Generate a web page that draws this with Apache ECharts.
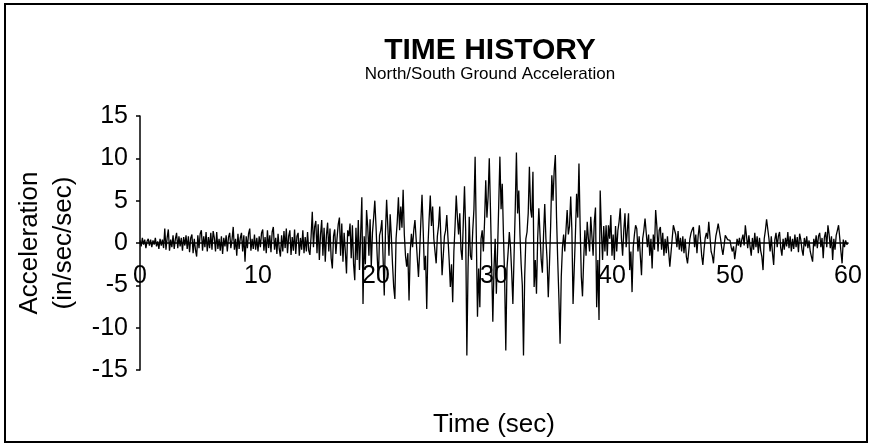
<!DOCTYPE html>
<html>
<head>
<meta charset="utf-8">
<script src="https://cdn.jsdelivr.net/npm/echarts@6/dist/echarts.min.js"></script>
<style>html,body{margin:0;padding:0;background:#fff}#c{width:871px;height:448px}</style>
</head>
<body>
<div id="c"></div>
<script>
// Sampling step of the record (seconds)
const timeStep = 0.1;
// Acceleration (in/sec/sec), one array per 10 s
const acc0to10 = [
  0.3,-0.4,0.6,-0.2,0.4,-0.6,0.2,0.5,-0.3,0.4,
  -0.5,0.3,-0.2,0.6,-0.4,0.2,-0.7,0.5,-0.3,0.4,
  -0.6,1.7,-0.8,0.6,1.6,-0.9,0.4,-0.5,0.9,-0.7,
  0.5,1.2,-0.6,0.8,-0.4,0.6,-0.9,0.7,-0.3,0.9,
  -0.7,0.8,-1.1,0.6,1.0,-1.2,0.5,-0.8,-1.6,0.9,
  -0.6,1.1,1.5,-0.9,0.8,-0.5,1.3,-1.0,0.7,-0.6,
  1.2,-0.8,1.4,0.6,-1.0,1.3,-0.7,0.5,-0.9,0.8,
  -1.3,0.6,-0.4,0.9,-1.0,0.7,1.2,-0.6,0.4,1.9,
  -0.8,0.5,-1.5,1.1,-0.7,0.6,1.2,-1.0,0.9,-2.2,
  0.8,-0.6,1.1,1.7,-0.9,0.5,-0.7,1.0,-0.8,0.6
];
const acc10to20 = [
  -1.0,0.8,-0.5,1.2,1.6,-0.9,0.7,-1.2,1.5,-0.6,
  0.9,-1.1,1.3,1.9,-0.8,0.6,-1.3,1.1,-0.7,-1.6,
  0.9,-1.0,1.4,-0.6,1.7,-1.2,0.8,1.5,-1.4,0.7,
  -0.9,1.6,-1.3,0.8,1.2,-1.5,0.6,-0.8,1.5,-1.2,
  0.7,-1.0,1.3,-0.9,-1.4,0.8,3.7,-0.5,1.9,2.6,
  -1.2,2.2,-2.0,1.0,2.7,-1.5,1.8,-2.2,0.9,2.4,
  -1.0,1.7,-1.8,-3.0,0.8,1.6,-1.3,0.6,2.2,3.0,
  -1.5,2.3,-2.2,1.2,-1.0,-3.6,1.5,0.8,2.3,-1.8,
  2.1,-2.5,-4.4,1.8,-2.0,2.7,-3.2,1.0,5.4,-7.2,
  0.8,-2.5,3.9,1.9,-1.5,2.8,-2.8,1.2,3.0,5.0
];
const acc20to30 = [
  2.0,-1.5,-4.4,0.9,1.5,2.7,-1.8,-6.2,1.2,5.1,
  2.0,-1.5,3.4,0.8,-2.5,-5.2,-6.6,0.5,2.5,5.4,
  1.5,4.3,1.8,6.3,1.0,-1.5,-2.8,-1.2,-6.8,-1.0,
  1.1,-0.5,1.5,2.7,0.5,-1.8,-4.0,-1.0,2.5,5.7,
  1.5,-3.2,-1.5,-7.8,-0.5,2.8,5.6,2.0,4.3,0.5,
  -1.0,-2.4,0.8,2.0,4.3,0.5,-3.8,-1.5,0.8,1.5,
  3.3,0.6,-2.0,-5.2,-2.5,-7.0,-1.0,2.0,5.6,3.0,
  1.0,3.5,-0.8,-2.0,2.5,6.7,1.5,-13.3,-3.0,3.1,
  -1.5,-2.0,1.5,4.0,10.2,1.0,-8.7,-3.0,-7.6,0.5,
  1.5,-1.0,2.5,7.4,3.0,5.5,10.0,4.0,-2.5,-9.3
];
const acc30to40 = [
  -3.0,0.5,-6.0,-1.0,4.5,10.2,4.0,7.0,1.0,-4.0,
  -12.7,-3.0,-1.0,1.3,-0.5,-3.5,-7.2,-1.5,4.0,10.7,
  3.5,6.2,1.0,-2.5,-5.0,-13.3,-4.0,0.5,1.3,3.5,
  9.0,4.0,3.0,8.4,-5.2,-2.0,-6.0,0.5,4.1,1.0,
  -2.0,-3.5,1.0,4.6,0.5,-2.0,-6.4,-2.5,2.0,8.0,
  5.0,8.5,10.4,3.0,-2.0,-6.5,-11.9,-4.0,-0.5,1.0,
  -1.0,1.5,3.9,1.0,2.0,5.5,1.5,-7.2,-3.0,1.0,
  5.8,3.0,9.4,2.0,-4.0,-6.3,-2.0,1.5,-1.5,2.5,
  0.5,-1.0,3.1,0.8,-1.5,2.5,4.2,-7.6,-2.0,-9.1,
  6.2,1.5,-2.0,2.0,-1.0,2.1,-1.5,2.1,0.5,3.3
];
const acc40to50 = [
  -1.5,1.0,-2.0,2.0,-1.0,1.5,2.5,4.1,0.5,-1.5,
  1.5,3.5,-0.5,1.5,3.5,-3.2,-1.0,-5.8,-0.5,1.0,
  2.1,1.7,-1.0,0.8,-1.5,-3.8,0.5,1.5,2.9,2.7,
  -0.5,1.0,-1.5,0.5,-3.0,1.0,-0.8,3.9,2.0,-1.0,
  1.5,1.9,-0.8,1.2,-1.5,0.5,-1.2,0.8,-1.0,-2.8,
  -3.0,0.5,2.1,2.2,1.0,-0.5,1.4,-0.8,0.6,-1.0,
  0.8,-1.2,0.5,-1.6,-2.4,-1.0,0.5,1.2,1.6,1.9,
  -0.5,1.0,-1.2,0.8,2.1,0.4,-1.5,-2.6,-0.8,0.6,
  1.2,0.5,2.5,0.8,-1.0,-1.5,-2.4,-0.5,0.8,1.5,
  2.3,2.2,0.5,-0.6,-1.4,-0.3,0.9,0.9,0.4,0.6
];
const acc50to60 = [
  0.3,-0.5,-1.0,-0.4,-1.9,-0.8,0.5,-0.3,0.6,-0.5,
  0.4,1.0,-0.3,2.1,0.8,-0.6,0.9,-0.4,-1.5,0.6,
  -0.8,1.2,-0.5,0.8,-1.2,0.6,-0.9,-1.6,-3.2,0.5,
  1.5,2.8,2.7,0.5,-1.0,0.8,-1.2,-2.6,0.4,1.2,
  -0.5,0.8,1.3,-0.6,-1.5,0.5,-0.8,0.6,-0.4,1.3,
  -0.6,0.8,-1.0,0.5,-0.7,1.0,-0.5,0.7,-1.1,1.1,
  0.4,-0.8,-1.5,0.6,-0.4,0.8,-0.6,0.3,-1.0,-1.6,
  -2.2,0.5,-0.4,0.9,-0.6,0.8,1.2,-0.5,0.6,-1.8,
  0.7,1.3,-0.5,2.1,1.0,-0.6,0.8,-2.0,0.5,-0.8,
  0.9,1.5,2.1,0.6,-1.0,-2.4,0.4,-0.5,0.3,-0.2,
  0.0
];
const xTicks = [0, 10, 20, 30, 40, 50, 60];
const yTicks = [-15, -10, -5, 0, 5, 10, 15];

const accel = [].concat(acc0to10, acc10to20, acc20to30, acc30to40, acc40to50, acc50to60);
const seriesData = accel.map((v, i) => [Math.round(i * timeStep * 10) / 10, v]);

const FONT = 'Liberation Sans, Arial, sans-serif';
const GRID_TOP = 116, GRID_BOTTOM = 78, H = 448;
// the x axis sits on the zero line, i.e. half the plot height above the grid bottom
const plotH = H - GRID_TOP - GRID_BOTTOM;
const chart = echarts.init(document.getElementById('c'), null, {renderer: 'canvas'});
chart.setOption({
  animation: false,
  backgroundColor: '#fff',
  title: {
    text: 'TIME HISTORY',
    subtext: 'North/South Ground Acceleration',
    left: 490, top: 36, textAlign: 'center', padding: 0, itemGap: 0,
    textStyle: {fontFamily: FONT, fontSize: 30, fontWeight: 'bold', color: '#000'},
    subtextStyle: {fontFamily: FONT, fontSize: 17, color: '#000'}
  },
  graphic: [{
    type: 'rect', shape: {x: 5, y: 4, width: 862, height: 438},
    style: {fill: 'none', stroke: '#000', lineWidth: 2}, silent: true
  }],
  grid: {left: 140, right: 23, top: GRID_TOP, bottom: GRID_BOTTOM, containLabel: false, outerBoundsMode: 'none'},
  xAxis: {
    type: 'value', min: xTicks[0], max: xTicks[xTicks.length - 1], interval: 10,
    name: 'Time (sec)', nameLocation: 'middle', nameGap: 169,
    nameTextStyle: {fontFamily: FONT, fontSize: 26, color: '#000'},
    offset: -plotH / 2,
    axisLine: {onZero: false, lineStyle: {color: '#000', width: 1.5}},
    axisTick: {show: false},
    splitLine: {show: false},
    axisLabel: {fontFamily: FONT, fontSize: 25, color: '#000', margin: 21, showMinLabel: true, showMaxLabel: true, hideOverlap: false}
  },
  yAxis: {
    type: 'value', min: yTicks[0], max: yTicks[yTicks.length - 1], interval: 5,
    name: 'Acceleration\n(in/sec/sec)', nameLocation: 'middle', nameGap: 54, nameRotate: 90,
    nameTextStyle: {fontFamily: FONT, fontSize: 26, color: '#000', lineHeight: 34},
    axisLine: {onZero: false, lineStyle: {color: '#000', width: 1.5}},
    axisTick: {length: 4, lineStyle: {color: '#000', width: 1.5}},
    splitLine: {show: false},
    axisLabel: {fontFamily: FONT, fontSize: 25, color: '#000', margin: 12, showMinLabel: true, showMaxLabel: true, hideOverlap: false}
  },
  series: [{
    type: 'line', data: seriesData, showSymbol: false,
    lineStyle: {color: '#000', width: 1.3}, z: 1
  }]
});
</script>
</body>
</html>
